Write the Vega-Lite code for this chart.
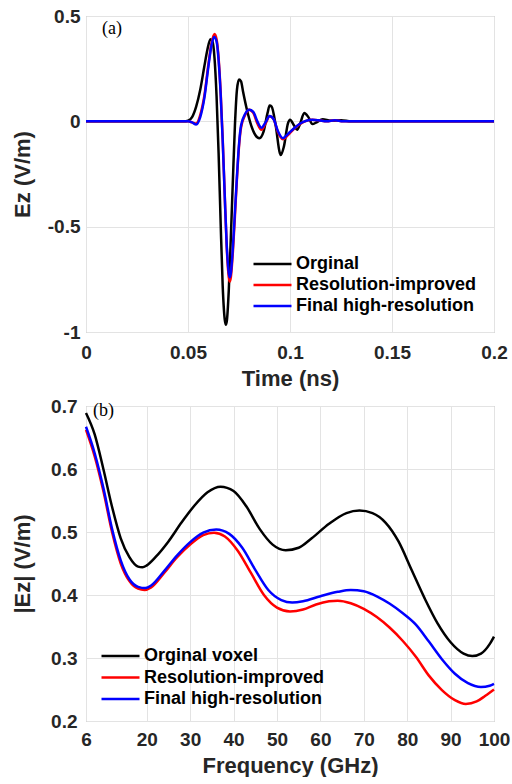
{
  "$schema": "https://vega.github.io/schema/vega-lite/v6.json",
  "padding": {"left": 10, "top": 6, "right": 0, "bottom": 0},
  "spacing": 6,
  "background": "white",
  "config": {
    "view": {"stroke": "#a6a6a6", "strokeWidth": 1},
    "axis": {
      "labelFont": "Liberation Sans", "labelFontWeight": "bold", "labelFontSize": 19, "labelColor": "#262626",
      "titleFont": "Liberation Sans", "titleFontWeight": "bold", "titleFontSize": 22, "titleColor": "#262626",
      "ticks": false, "domain": false, "gridColor": "#e3e3e3", "gridWidth": 1
    },
    "legend": {
      "labelFont": "Liberation Sans", "labelFontWeight": "bold", "labelFontSize": 18, "labelColor": "#000000",
      "symbolType": "stroke", "symbolSize": 1444, "symbolStrokeWidth": 2.5, "symbolOffset": 0,
      "labelOffset": 3, "padding": 0, "clipHeight": 20, "titlePadding": 0, "labelLimit": 400
    }
  },
  "resolve": {"scale": {"color": "independent"}, "legend": {"color": "independent"}},
  "vconcat": [
    {
      "width": 408,
      "height": 316,
      "layer": [
        {
          "data": {"values": [
            {"series": "Orginal", "time": 0, "Ez": 0},
            {"series": "Orginal", "time": 0.048, "Ez": 0},
            {"series": "Orginal", "time": 0.05, "Ez": 0.003},
            {"series": "Orginal", "time": 0.052, "Ez": 0.02},
            {"series": "Orginal", "time": 0.054, "Ez": 0.07},
            {"series": "Orginal", "time": 0.056, "Ez": 0.15},
            {"series": "Orginal", "time": 0.058, "Ez": 0.26},
            {"series": "Orginal", "time": 0.0595, "Ez": 0.34},
            {"series": "Orginal", "time": 0.061, "Ez": 0.39},
            {"series": "Orginal", "time": 0.062, "Ez": 0.38},
            {"series": "Orginal", "time": 0.063, "Ez": 0.3},
            {"series": "Orginal", "time": 0.064, "Ez": 0.12},
            {"series": "Orginal", "time": 0.065, "Ez": -0.15},
            {"series": "Orginal", "time": 0.066, "Ez": -0.48},
            {"series": "Orginal", "time": 0.067, "Ez": -0.78},
            {"series": "Orginal", "time": 0.068, "Ez": -0.94},
            {"series": "Orginal", "time": 0.0685, "Ez": -0.965},
            {"series": "Orginal", "time": 0.069, "Ez": -0.95},
            {"series": "Orginal", "time": 0.07, "Ez": -0.8},
            {"series": "Orginal", "time": 0.071, "Ez": -0.55},
            {"series": "Orginal", "time": 0.072, "Ez": -0.28},
            {"series": "Orginal", "time": 0.073, "Ez": -0.02},
            {"series": "Orginal", "time": 0.074, "Ez": 0.15},
            {"series": "Orginal", "time": 0.075, "Ez": 0.198},
            {"series": "Orginal", "time": 0.076, "Ez": 0.19},
            {"series": "Orginal", "time": 0.077, "Ez": 0.14},
            {"series": "Orginal", "time": 0.079, "Ez": 0.05},
            {"series": "Orginal", "time": 0.081, "Ez": -0.02},
            {"series": "Orginal", "time": 0.083, "Ez": -0.065},
            {"series": "Orginal", "time": 0.085, "Ez": -0.08},
            {"series": "Orginal", "time": 0.087, "Ez": -0.05},
            {"series": "Orginal", "time": 0.089, "Ez": 0.04},
            {"series": "Orginal", "time": 0.09, "Ez": 0.075},
            {"series": "Orginal", "time": 0.091, "Ez": 0.07},
            {"series": "Orginal", "time": 0.093, "Ez": -0.02},
            {"series": "Orginal", "time": 0.095, "Ez": -0.15},
            {"series": "Orginal", "time": 0.0955, "Ez": -0.16},
            {"series": "Orginal", "time": 0.097, "Ez": -0.12},
            {"series": "Orginal", "time": 0.099, "Ez": -0.01},
            {"series": "Orginal", "time": 0.1, "Ez": 0.008},
            {"series": "Orginal", "time": 0.102, "Ez": -0.02},
            {"series": "Orginal", "time": 0.1035, "Ez": -0.04},
            {"series": "Orginal", "time": 0.105, "Ez": -0.01},
            {"series": "Orginal", "time": 0.107, "Ez": 0.04},
            {"series": "Orginal", "time": 0.109, "Ez": 0.02},
            {"series": "Orginal", "time": 0.111, "Ez": -0.013},
            {"series": "Orginal", "time": 0.113, "Ez": -0.005},
            {"series": "Orginal", "time": 0.116, "Ez": 0.01},
            {"series": "Orginal", "time": 0.12, "Ez": 0.003},
            {"series": "Orginal", "time": 0.125, "Ez": 0.005},
            {"series": "Orginal", "time": 0.13, "Ez": 0},
            {"series": "Orginal", "time": 0.2, "Ez": 0},
            {"series": "Resolution-improved", "time": 0, "Ez": 0},
            {"series": "Resolution-improved", "time": 0.05, "Ez": 0},
            {"series": "Resolution-improved", "time": 0.052, "Ez": -0.005},
            {"series": "Resolution-improved", "time": 0.054, "Ez": -0.01},
            {"series": "Resolution-improved", "time": 0.056, "Ez": 0.03},
            {"series": "Resolution-improved", "time": 0.058, "Ez": 0.12},
            {"series": "Resolution-improved", "time": 0.06, "Ez": 0.27},
            {"series": "Resolution-improved", "time": 0.0615, "Ez": 0.37},
            {"series": "Resolution-improved", "time": 0.063, "Ez": 0.415},
            {"series": "Resolution-improved", "time": 0.064, "Ez": 0.39},
            {"series": "Resolution-improved", "time": 0.065, "Ez": 0.3},
            {"series": "Resolution-improved", "time": 0.066, "Ez": 0.14},
            {"series": "Resolution-improved", "time": 0.067, "Ez": -0.08},
            {"series": "Resolution-improved", "time": 0.068, "Ez": -0.35},
            {"series": "Resolution-improved", "time": 0.069, "Ez": -0.6},
            {"series": "Resolution-improved", "time": 0.07, "Ez": -0.74},
            {"series": "Resolution-improved", "time": 0.0705, "Ez": -0.76},
            {"series": "Resolution-improved", "time": 0.071, "Ez": -0.74},
            {"series": "Resolution-improved", "time": 0.072, "Ez": -0.62},
            {"series": "Resolution-improved", "time": 0.073, "Ez": -0.45},
            {"series": "Resolution-improved", "time": 0.074, "Ez": -0.27},
            {"series": "Resolution-improved", "time": 0.075, "Ez": -0.12},
            {"series": "Resolution-improved", "time": 0.076, "Ez": -0.03},
            {"series": "Resolution-improved", "time": 0.078, "Ez": 0.03},
            {"series": "Resolution-improved", "time": 0.08, "Ez": 0.055},
            {"series": "Resolution-improved", "time": 0.082, "Ez": 0.04},
            {"series": "Resolution-improved", "time": 0.084, "Ez": -0.01},
            {"series": "Resolution-improved", "time": 0.086, "Ez": -0.04},
            {"series": "Resolution-improved", "time": 0.088, "Ez": -0.01},
            {"series": "Resolution-improved", "time": 0.09, "Ez": 0.024},
            {"series": "Resolution-improved", "time": 0.092, "Ez": 0.01},
            {"series": "Resolution-improved", "time": 0.094, "Ez": -0.05},
            {"series": "Resolution-improved", "time": 0.0965, "Ez": -0.085},
            {"series": "Resolution-improved", "time": 0.099, "Ez": -0.065},
            {"series": "Resolution-improved", "time": 0.102, "Ez": -0.035},
            {"series": "Resolution-improved", "time": 0.105, "Ez": -0.012},
            {"series": "Resolution-improved", "time": 0.108, "Ez": 0.002},
            {"series": "Resolution-improved", "time": 0.111, "Ez": 0.007},
            {"series": "Resolution-improved", "time": 0.114, "Ez": 0.005},
            {"series": "Resolution-improved", "time": 0.118, "Ez": 0},
            {"series": "Resolution-improved", "time": 0.122, "Ez": 0.005},
            {"series": "Resolution-improved", "time": 0.126, "Ez": 0},
            {"series": "Resolution-improved", "time": 0.2, "Ez": 0},
            {"series": "Final high-resolution", "time": 0, "Ez": 0},
            {"series": "Final high-resolution", "time": 0.05, "Ez": 0},
            {"series": "Final high-resolution", "time": 0.052, "Ez": -0.005},
            {"series": "Final high-resolution", "time": 0.054, "Ez": -0.015},
            {"series": "Final high-resolution", "time": 0.056, "Ez": 0.02},
            {"series": "Final high-resolution", "time": 0.058, "Ez": 0.11},
            {"series": "Final high-resolution", "time": 0.06, "Ez": 0.26},
            {"series": "Final high-resolution", "time": 0.0615, "Ez": 0.36},
            {"series": "Final high-resolution", "time": 0.0628, "Ez": 0.4},
            {"series": "Final high-resolution", "time": 0.064, "Ez": 0.38},
            {"series": "Final high-resolution", "time": 0.065, "Ez": 0.29},
            {"series": "Final high-resolution", "time": 0.066, "Ez": 0.13},
            {"series": "Final high-resolution", "time": 0.067, "Ez": -0.09},
            {"series": "Final high-resolution", "time": 0.068, "Ez": -0.35},
            {"series": "Final high-resolution", "time": 0.069, "Ez": -0.59},
            {"series": "Final high-resolution", "time": 0.07, "Ez": -0.72},
            {"series": "Final high-resolution", "time": 0.0705, "Ez": -0.74},
            {"series": "Final high-resolution", "time": 0.071, "Ez": -0.72},
            {"series": "Final high-resolution", "time": 0.072, "Ez": -0.6},
            {"series": "Final high-resolution", "time": 0.073, "Ez": -0.43},
            {"series": "Final high-resolution", "time": 0.074, "Ez": -0.26},
            {"series": "Final high-resolution", "time": 0.075, "Ez": -0.11},
            {"series": "Final high-resolution", "time": 0.076, "Ez": -0.02},
            {"series": "Final high-resolution", "time": 0.078, "Ez": 0.035},
            {"series": "Final high-resolution", "time": 0.08, "Ez": 0.055},
            {"series": "Final high-resolution", "time": 0.082, "Ez": 0.045},
            {"series": "Final high-resolution", "time": 0.084, "Ez": 0},
            {"series": "Final high-resolution", "time": 0.086, "Ez": -0.03},
            {"series": "Final high-resolution", "time": 0.088, "Ez": -0.005},
            {"series": "Final high-resolution", "time": 0.09, "Ez": 0.025},
            {"series": "Final high-resolution", "time": 0.092, "Ez": 0.01},
            {"series": "Final high-resolution", "time": 0.094, "Ez": -0.045},
            {"series": "Final high-resolution", "time": 0.0965, "Ez": -0.08},
            {"series": "Final high-resolution", "time": 0.099, "Ez": -0.06},
            {"series": "Final high-resolution", "time": 0.102, "Ez": -0.033},
            {"series": "Final high-resolution", "time": 0.105, "Ez": -0.01},
            {"series": "Final high-resolution", "time": 0.108, "Ez": 0.003},
            {"series": "Final high-resolution", "time": 0.111, "Ez": 0.007},
            {"series": "Final high-resolution", "time": 0.114, "Ez": 0.005},
            {"series": "Final high-resolution", "time": 0.118, "Ez": 0},
            {"series": "Final high-resolution", "time": 0.122, "Ez": 0.005},
            {"series": "Final high-resolution", "time": 0.126, "Ez": 0},
            {"series": "Final high-resolution", "time": 0.2, "Ez": 0}
          ]},
          "mark": {"type": "line", "strokeWidth": 2.5, "interpolate": "monotone"},
          "encoding": {
            "x": {"field": "time", "type": "quantitative",
              "scale": {"domain": [0, 0.2], "nice": false, "zero": false},
              "axis": {"title": "Time (ns)", "values": [0, 0.05, 0.1, 0.15, 0.2], "labelFlush": false,
                "labelExpr": "format(datum.value, '~g')", "labelPadding": 11, "titlePadding": 6}},
            "y": {"field": "Ez", "type": "quantitative",
              "scale": {"domain": [-1, 0.5], "nice": false, "zero": false},
              "axis": {"title": "Ez (V/m)", "values": [-1, -0.5, 0, 0.5],
                "labelExpr": "datum.value < 0 ? '-' + format(-datum.value, '~g') : format(datum.value, '~g')",
                "labelPadding": 6, "minExtent": 45, "maxExtent": 45, "titlePadding": 7}},
            "color": {"field": "series", "type": "nominal",
              "scale": {"domain": ["Orginal", "Resolution-improved", "Final high-resolution"], "range": ["#000000", "#ff0000", "#0000ff"]},
              "legend": {"title": null, "orient": "none", "legendX": 166, "legendY": 238, "rowPadding": 1}}
          }
        },
        {
          "data": {"values": [{"time": 0.0078, "Ez": 0.437, "label": "(a)"}]},
          "mark": {"type": "text", "font": "Liberation Serif", "fontSize": 18, "align": "left", "baseline": "middle", "color": "#000000"},
          "encoding": {
            "x": {"field": "time", "type": "quantitative"},
            "y": {"field": "Ez", "type": "quantitative"},
            "text": {"field": "label"}
          }
        }
      ]
    },
    {
      "width": 408,
      "height": 315,
      "layer": [
        {
          "data": {"values": [
            {"series": "Orginal voxel", "freq": 6, "E": 0.689},
            {"series": "Orginal voxel", "freq": 8, "E": 0.655},
            {"series": "Orginal voxel", "freq": 10, "E": 0.6},
            {"series": "Orginal voxel", "freq": 12, "E": 0.54},
            {"series": "Orginal voxel", "freq": 14, "E": 0.49},
            {"series": "Orginal voxel", "freq": 16, "E": 0.46},
            {"series": "Orginal voxel", "freq": 18, "E": 0.445},
            {"series": "Orginal voxel", "freq": 19, "E": 0.444},
            {"series": "Orginal voxel", "freq": 20, "E": 0.447},
            {"series": "Orginal voxel", "freq": 22, "E": 0.46},
            {"series": "Orginal voxel", "freq": 25, "E": 0.485},
            {"series": "Orginal voxel", "freq": 28, "E": 0.515},
            {"series": "Orginal voxel", "freq": 31, "E": 0.542},
            {"series": "Orginal voxel", "freq": 34, "E": 0.563},
            {"series": "Orginal voxel", "freq": 37, "E": 0.572},
            {"series": "Orginal voxel", "freq": 40, "E": 0.565},
            {"series": "Orginal voxel", "freq": 43, "E": 0.54},
            {"series": "Orginal voxel", "freq": 46, "E": 0.505},
            {"series": "Orginal voxel", "freq": 49, "E": 0.48},
            {"series": "Orginal voxel", "freq": 52, "E": 0.471},
            {"series": "Orginal voxel", "freq": 55, "E": 0.475},
            {"series": "Orginal voxel", "freq": 58, "E": 0.49},
            {"series": "Orginal voxel", "freq": 62, "E": 0.513},
            {"series": "Orginal voxel", "freq": 66, "E": 0.53},
            {"series": "Orginal voxel", "freq": 69, "E": 0.534},
            {"series": "Orginal voxel", "freq": 72, "E": 0.53},
            {"series": "Orginal voxel", "freq": 75, "E": 0.515},
            {"series": "Orginal voxel", "freq": 78, "E": 0.485},
            {"series": "Orginal voxel", "freq": 81, "E": 0.44},
            {"series": "Orginal voxel", "freq": 84, "E": 0.395},
            {"series": "Orginal voxel", "freq": 87, "E": 0.355},
            {"series": "Orginal voxel", "freq": 90, "E": 0.325},
            {"series": "Orginal voxel", "freq": 93, "E": 0.307},
            {"series": "Orginal voxel", "freq": 95, "E": 0.303},
            {"series": "Orginal voxel", "freq": 97, "E": 0.307},
            {"series": "Orginal voxel", "freq": 99, "E": 0.322},
            {"series": "Orginal voxel", "freq": 100, "E": 0.334},
            {"series": "Resolution-improved", "freq": 6, "E": 0.662},
            {"series": "Resolution-improved", "freq": 8, "E": 0.62},
            {"series": "Resolution-improved", "freq": 10, "E": 0.565},
            {"series": "Resolution-improved", "freq": 12, "E": 0.5},
            {"series": "Resolution-improved", "freq": 14, "E": 0.45},
            {"series": "Resolution-improved", "freq": 16, "E": 0.422},
            {"series": "Resolution-improved", "freq": 18, "E": 0.41},
            {"series": "Resolution-improved", "freq": 19.5, "E": 0.408},
            {"series": "Resolution-improved", "freq": 21, "E": 0.412},
            {"series": "Resolution-improved", "freq": 24, "E": 0.435},
            {"series": "Resolution-improved", "freq": 27, "E": 0.46},
            {"series": "Resolution-improved", "freq": 30, "E": 0.48},
            {"series": "Resolution-improved", "freq": 33, "E": 0.495},
            {"series": "Resolution-improved", "freq": 35.5, "E": 0.499},
            {"series": "Resolution-improved", "freq": 38, "E": 0.493},
            {"series": "Resolution-improved", "freq": 41, "E": 0.47},
            {"series": "Resolution-improved", "freq": 44, "E": 0.435},
            {"series": "Resolution-improved", "freq": 47, "E": 0.4},
            {"series": "Resolution-improved", "freq": 50, "E": 0.38},
            {"series": "Resolution-improved", "freq": 53, "E": 0.374},
            {"series": "Resolution-improved", "freq": 56, "E": 0.377},
            {"series": "Resolution-improved", "freq": 59, "E": 0.385},
            {"series": "Resolution-improved", "freq": 62, "E": 0.39},
            {"series": "Resolution-improved", "freq": 64, "E": 0.391},
            {"series": "Resolution-improved", "freq": 67, "E": 0.387},
            {"series": "Resolution-improved", "freq": 70, "E": 0.378},
            {"series": "Resolution-improved", "freq": 73, "E": 0.365},
            {"series": "Resolution-improved", "freq": 76, "E": 0.348},
            {"series": "Resolution-improved", "freq": 79, "E": 0.327},
            {"series": "Resolution-improved", "freq": 82, "E": 0.302},
            {"series": "Resolution-improved", "freq": 85, "E": 0.272},
            {"series": "Resolution-improved", "freq": 88, "E": 0.249},
            {"series": "Resolution-improved", "freq": 91, "E": 0.233},
            {"series": "Resolution-improved", "freq": 93.5, "E": 0.227},
            {"series": "Resolution-improved", "freq": 96, "E": 0.231},
            {"series": "Resolution-improved", "freq": 98, "E": 0.24},
            {"series": "Resolution-improved", "freq": 100, "E": 0.25},
            {"series": "Final high-resolution", "freq": 6, "E": 0.667},
            {"series": "Final high-resolution", "freq": 8, "E": 0.625},
            {"series": "Final high-resolution", "freq": 10, "E": 0.57},
            {"series": "Final high-resolution", "freq": 12, "E": 0.505},
            {"series": "Final high-resolution", "freq": 14, "E": 0.455},
            {"series": "Final high-resolution", "freq": 16, "E": 0.425},
            {"series": "Final high-resolution", "freq": 18, "E": 0.413},
            {"series": "Final high-resolution", "freq": 19.7, "E": 0.411},
            {"series": "Final high-resolution", "freq": 21, "E": 0.415},
            {"series": "Final high-resolution", "freq": 24, "E": 0.438},
            {"series": "Final high-resolution", "freq": 27, "E": 0.463},
            {"series": "Final high-resolution", "freq": 30, "E": 0.484},
            {"series": "Final high-resolution", "freq": 33, "E": 0.499},
            {"series": "Final high-resolution", "freq": 36, "E": 0.504},
            {"series": "Final high-resolution", "freq": 39, "E": 0.497},
            {"series": "Final high-resolution", "freq": 42, "E": 0.475},
            {"series": "Final high-resolution", "freq": 45, "E": 0.44},
            {"series": "Final high-resolution", "freq": 48, "E": 0.408},
            {"series": "Final high-resolution", "freq": 51, "E": 0.392},
            {"series": "Final high-resolution", "freq": 53.5, "E": 0.388},
            {"series": "Final high-resolution", "freq": 56, "E": 0.39},
            {"series": "Final high-resolution", "freq": 60, "E": 0.398},
            {"series": "Final high-resolution", "freq": 64, "E": 0.405},
            {"series": "Final high-resolution", "freq": 67, "E": 0.408},
            {"series": "Final high-resolution", "freq": 70, "E": 0.406},
            {"series": "Final high-resolution", "freq": 73, "E": 0.398},
            {"series": "Final high-resolution", "freq": 76, "E": 0.386},
            {"series": "Final high-resolution", "freq": 79, "E": 0.371},
            {"series": "Final high-resolution", "freq": 82, "E": 0.353},
            {"series": "Final high-resolution", "freq": 85, "E": 0.326},
            {"series": "Final high-resolution", "freq": 88, "E": 0.298},
            {"series": "Final high-resolution", "freq": 91, "E": 0.275},
            {"series": "Final high-resolution", "freq": 94, "E": 0.26},
            {"series": "Final high-resolution", "freq": 97, "E": 0.254},
            {"series": "Final high-resolution", "freq": 99, "E": 0.256},
            {"series": "Final high-resolution", "freq": 100, "E": 0.259}
          ]},
          "mark": {"type": "line", "strokeWidth": 2.5, "interpolate": "monotone"},
          "encoding": {
            "x": {"field": "freq", "type": "quantitative",
              "scale": {"domain": [6, 100], "nice": false, "zero": false},
              "axis": {"title": "Frequency (GHz)", "values": [6, 20, 30, 40, 50, 60, 70, 80, 90, 100], "labelFlush": false,
                "labelExpr": "format(datum.value, '~g')", "labelPadding": 9, "titlePadding": 6}},
            "y": {"field": "E", "type": "quantitative",
              "scale": {"domain": [0.2, 0.7], "nice": false, "zero": false},
              "axis": {"title": "|Ez| (V/m)", "values": [0.2, 0.3, 0.4, 0.5, 0.6, 0.7],
                "labelExpr": "format(datum.value, '~g')",
                "labelPadding": 9, "minExtent": 38, "maxExtent": 38, "titlePadding": 14}},
            "color": {"field": "series", "type": "nominal",
              "scale": {"domain": ["Orginal voxel", "Resolution-improved", "Final high-resolution"], "range": ["#000000", "#ff0000", "#0000ff"]},
              "legend": {"title": null, "orient": "none", "legendX": 14, "legendY": 240, "rowPadding": 1.5}}
          }
        },
        {
          "data": {"values": [{"freq": 7.6, "E": 0.692, "label": "(b)"}]},
          "mark": {"type": "text", "font": "Liberation Serif", "fontSize": 18, "align": "left", "baseline": "middle", "color": "#000000"},
          "encoding": {
            "x": {"field": "freq", "type": "quantitative"},
            "y": {"field": "E", "type": "quantitative"},
            "text": {"field": "label"}
          }
        }
      ]
    }
  ]
}
